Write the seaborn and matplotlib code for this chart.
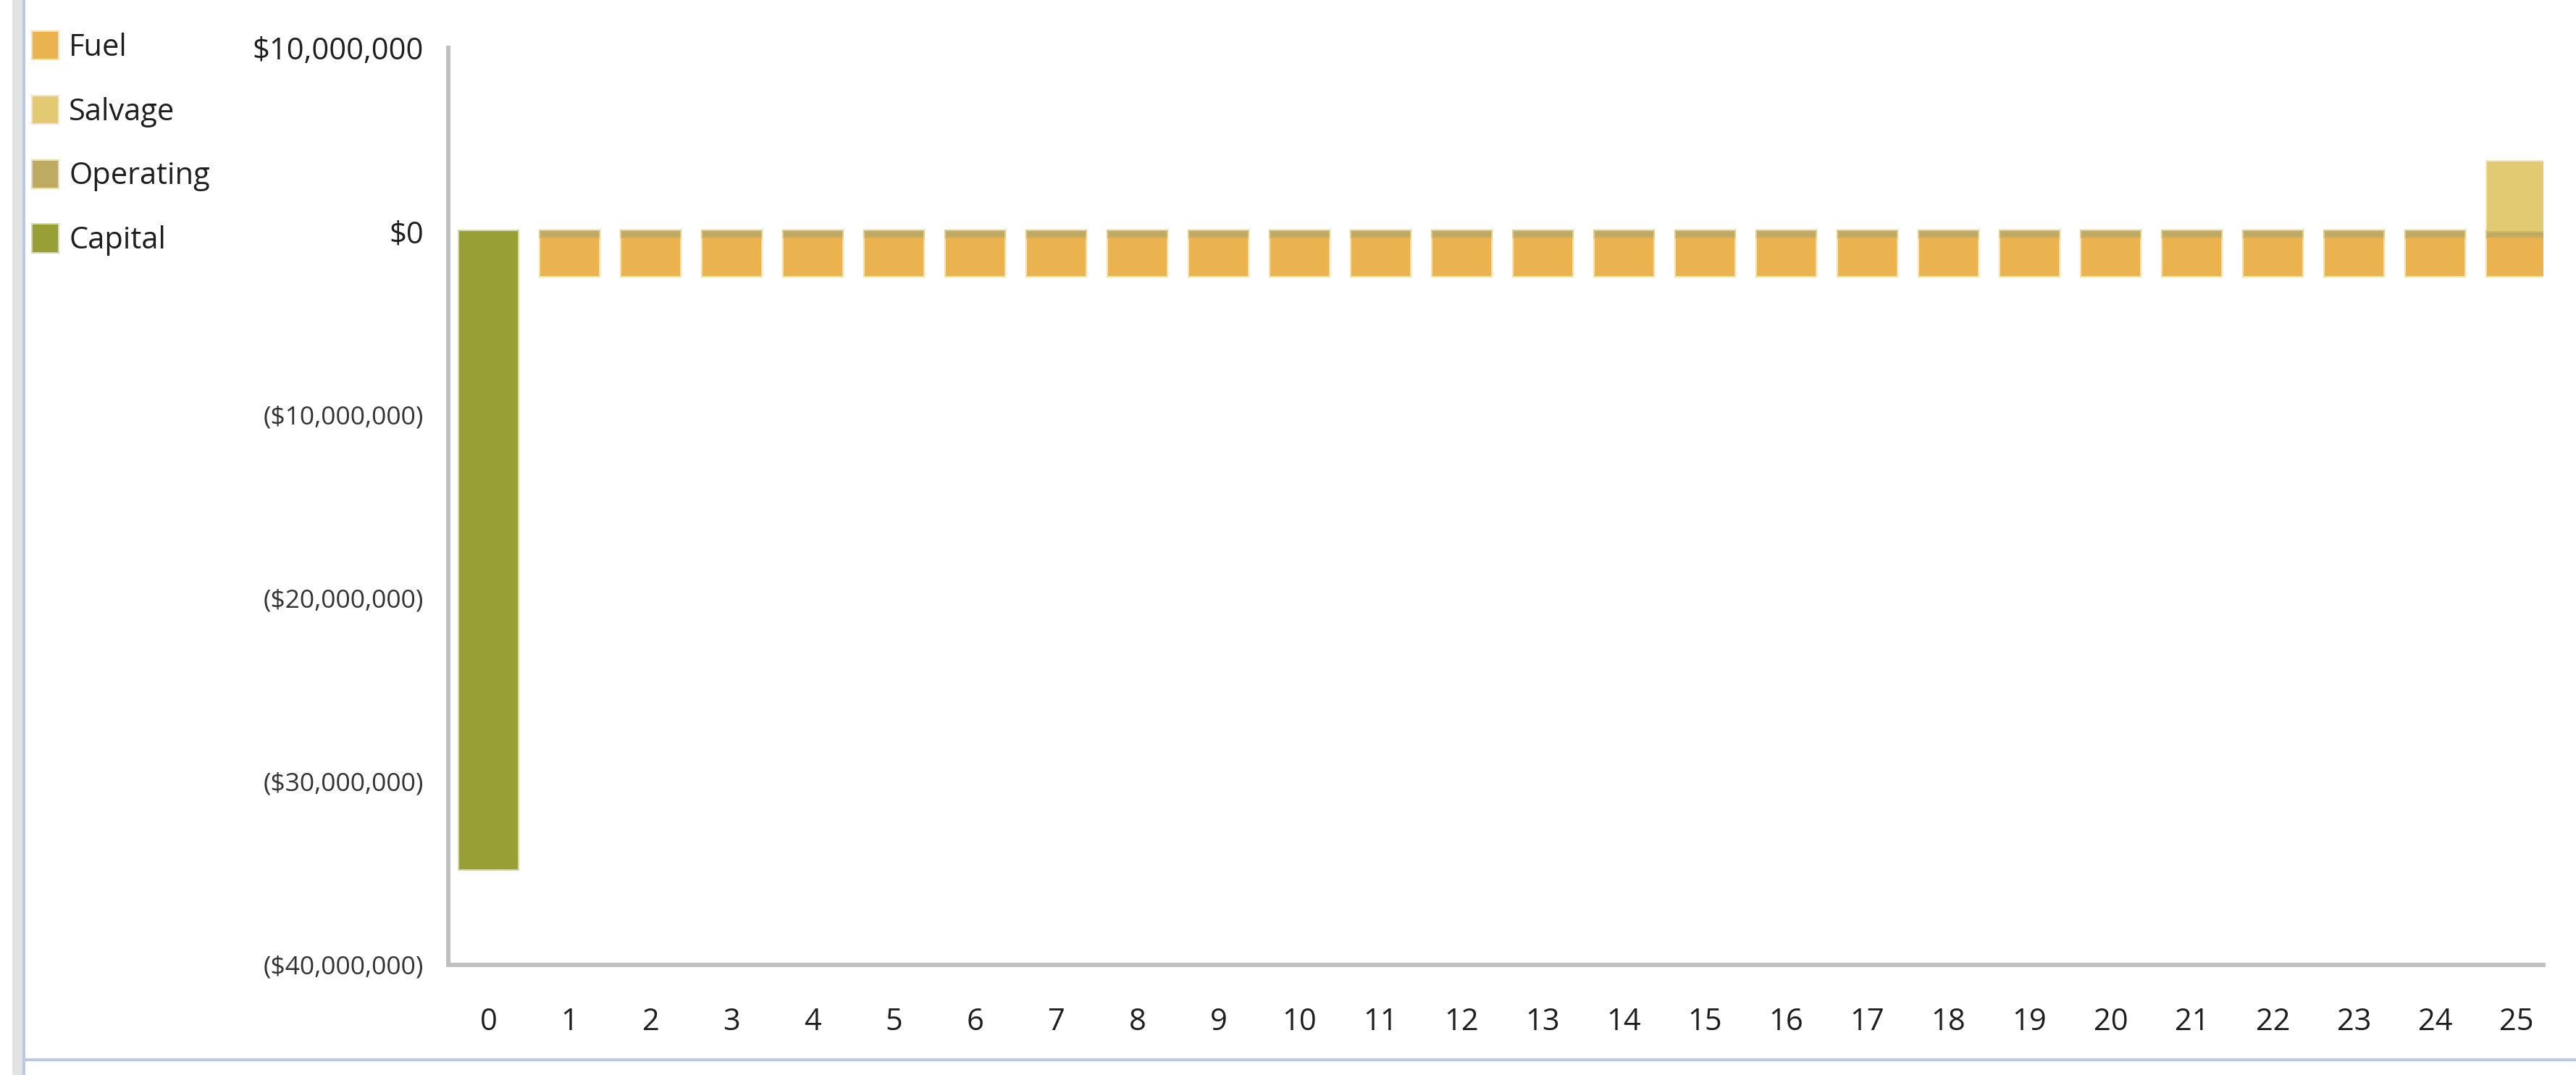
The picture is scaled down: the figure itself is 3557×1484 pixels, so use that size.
import matplotlib
matplotlib.use("Agg")
import matplotlib.pyplot as plt
import seaborn as sns
import pandas as pd
import numpy as np
from matplotlib.colors import to_rgba
from matplotlib.patches import Patch, Rectangle
from matplotlib.lines import Line2D

# Cash flow by year (dollars)
years = [0, 1, 2, 3, 4, 5, 6, 7, 8, 9, 10, 11, 12, 13, 14, 15, 16, 17, 18, 19, 20,
         21, 22, 23, 24, 25]
capital = [-34_800_000, 0, 0, 0, 0, 0, 0, 0, 0, 0, 0, 0, 0, 0, 0, 0, 0, 0, 0, 0, 0,
           0, 0, 0, 0, 0]
operating = [0, -300_000, -300_000, -300_000, -300_000, -300_000, -300_000, -300_000,
             -300_000, -300_000, -300_000, -300_000, -300_000, -300_000, -300_000,
             -300_000, -300_000, -300_000, -300_000, -300_000, -300_000, -300_000,
             -300_000, -300_000, -300_000, -300_000]
fuel = [0, -2_150_000, -2_150_000, -2_150_000, -2_150_000, -2_150_000, -2_150_000,
        -2_150_000, -2_150_000, -2_150_000, -2_150_000, -2_150_000, -2_150_000,
        -2_150_000, -2_150_000, -2_150_000, -2_150_000, -2_150_000, -2_150_000,
        -2_150_000, -2_150_000, -2_150_000, -2_150_000, -2_150_000, -2_150_000,
        -2_150_000]
salvage = [0, 0, 0, 0, 0, 0, 0, 0, 0, 0, 0, 0, 0, 0, 0, 0, 0, 0, 0, 0, 0, 0, 0, 0, 0,
           3_800_000]

legend_order = ["Fuel", "Salvage", "Operating", "Capital"]
colors = {"Fuel": "#EBB250", "Salvage": "#E2CA72", "Operating": "#BFAA62",
          "Capital": "#989F35"}
y_ticks = [-40_000_000, -30_000_000, -20_000_000, -10_000_000, 0, 10_000_000]

W, H = 3557, 1484
GRAY = "#c0c0c0"
TXT = "#1e1e1e"


def edge(name):
    return to_rgba(colors[name], 0.4)


def money(v):
    v = int(round(v))
    return f"${v:,}" if v >= 0 else f"(${-v:,})"


df = pd.DataFrame({"year": years, "Capital": capital, "Operating": operating,
                   "Fuel": fuel, "Salvage": salvage})
# negative stack: operating sits next to zero, fuel below it
df["FuelStack"] = df["Operating"] + df["Fuel"]

sns.set_style("white")
plt.rcParams["font.family"] = ["Open Sans", "DejaVu Sans"]

fig = plt.figure(figsize=(W / 100, H / 100), dpi=100)
ax = fig.add_axes([618.5 / W, 1 - 1332 / H, (3512 - 618.5) / W, (1332 - 66) / H])


def draw(col, name):
    sub = df[df[col] != 0]
    sns.barplot(data=sub, x="year", y=col, order=years, color=colors[name],
                saturation=1, width=0.72, errorbar=None, edgecolor=edge(name),
                linewidth=3, ax=ax)


draw("FuelStack", "Fuel")
draw("Operating", "Operating")
draw("Capital", "Capital")
draw("Salvage", "Salvage")

ax.set_xlim(-0.5, 25.335)
ax.set_ylim(-40_000_000, 10_000_000)
ax.set_xlabel("")
ax.set_ylabel("")

# x: ticks sit between categories, labels at category centres
ax.set_xticks(np.arange(-0.5, 25, 1))
ax.set_xticklabels([])
ax.set_xticks(range(len(years)), minor=True)
ax.set_xticklabels([str(y) for y in years], minor=True)
ax.tick_params(axis="x", which="major", length=16, width=4.3, color=GRAY,
               direction="out")
ax.tick_params(axis="x", which="minor", length=0, pad=42, labelsize=30,
               labelcolor=TXT)

ax.set_yticks(y_ticks, labels=[money(v) for v in y_ticks])
ax.tick_params(axis="y", length=18, width=4.3, color=GRAY, direction="out", pad=6,
               labelsize=30, labelcolor=TXT)
for lbl, v in zip(ax.get_yticklabels(), y_ticks):
    if v < 0:
        lbl.set_fontsize(25.5)
        lbl.set_color("#333333")

sns.despine(ax=ax)
for side in ["left", "bottom"]:
    ax.spines[side].set_color(GRAY)
    ax.spines[side].set_linewidth(4.3)
ax.grid(False)

handles = [Patch(facecolor=colors[n], edgecolor=edge(n), linewidth=3, label=n)
           for n in legend_order]
leg = fig.legend(handles=handles, loc="upper left",
                 bbox_to_anchor=(45 / W, 1 - 44 / H), frameon=False, fontsize=30,
                 handlelength=0.85, handleheight=1.0, handletextpad=0.35,
                 labelspacing=1.1, borderpad=0, borderaxespad=0)
for t in leg.get_texts():
    t.set_color(TXT)

# window frame bits visible in the screenshot
fig.add_artist(Rectangle((17 / W, 0), 15 / W, 1, transform=fig.transFigure,
                         color="#e2e2e2", lw=0))
fig.add_artist(Line2D([33 / W, 33 / W], [0, 1], transform=fig.transFigure,
                      color="#b9c9df", lw=3))
fig.add_artist(Line2D([33 / W, 1], [1 - 1463 / H, 1 - 1463 / H],
                      transform=fig.transFigure, color="#b9c9df", lw=3))

fig.savefig("out.png", dpi=100)
